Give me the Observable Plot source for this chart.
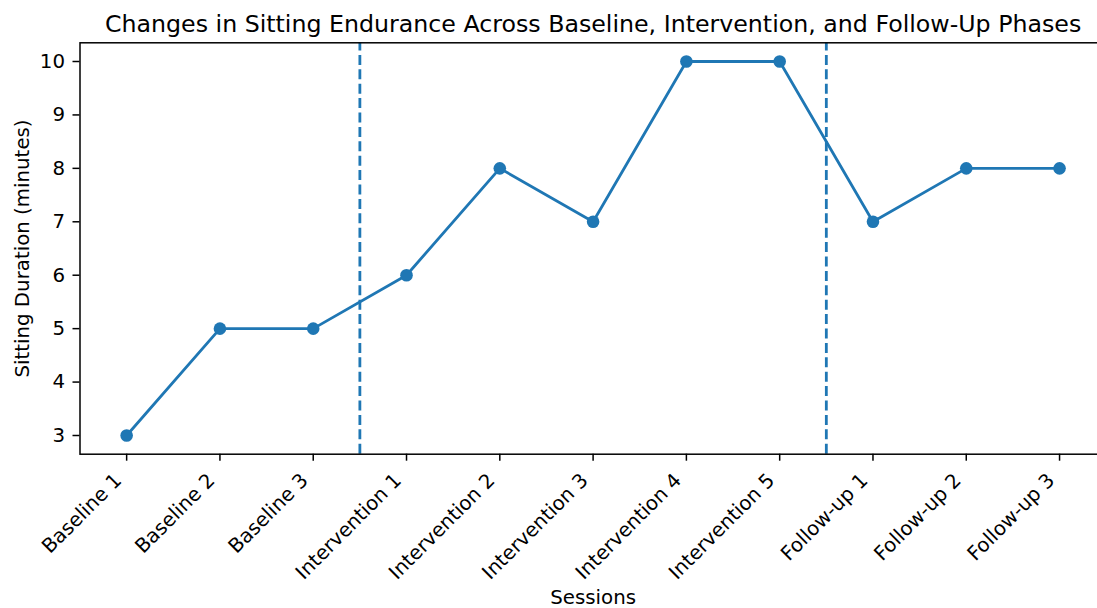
<!DOCTYPE html>
<html>
<head>
<meta charset="utf-8">
<script src="https://cdn.jsdelivr.net/npm/d3@7"></script>
<script src="https://cdn.jsdelivr.net/npm/@observablehq/plot@0.6"></script>
<style>
  html, body { margin: 0; padding: 0; background: white; }
  #chart svg { display: block; overflow: visible; }
</style>
</head>
<body>
<div id="chart"></div>
<script>
const sessions = ["Baseline 1", "Baseline 2", "Baseline 3", "Intervention 1", "Intervention 2", "Intervention 3", "Intervention 4", "Intervention 5", "Follow-up 1", "Follow-up 2", "Follow-up 3"];
const durations = [3, 5, 5, 6, 8, 7, 10, 10, 7, 8, 8];
const phaseBoundaries = [2.5, 7.5];
const yTicks = [3, 4, 5, 6, 7, 8, 9, 10];
const titleText = "Changes in Sitting Endurance Across Baseline, Intervention, and Follow-Up Phases";
const xLabel = "Sessions";
const yLabel = "Sitting Duration (minutes)";

(function () {
const data = sessions.map((s, i) => ({i, session: s, value: durations[i]}));
const idx = sessions.map((s, i) => i);

const W = 1097, H = 608;
const pLeft = 79.5, pRight = 1105.7, pTop = 42.3, pBottom = 453.7;
const yDomain = [2.65, 10.35];
const blue = "#1f77b4";
const font = "DejaVu Sans, sans-serif";

const plot = Plot.plot({
  width: W,
  height: H,
  marginLeft: pLeft,
  marginRight: W - pRight,
  marginTop: pTop,
  marginBottom: H - pBottom,
  style: {fontFamily: font, background: "white", overflow: "visible"},
  x: {domain: [-0.5, 10.5], range: [pLeft, pRight]},
  y: {domain: yDomain, range: [pBottom, pTop]},
  marks: [
    Plot.line(data, {x: "i", y: "value", stroke: blue, strokeWidth: 2.8}),
    Plot.ruleX(phaseBoundaries, {x: d => d, y1: () => yDomain[0], y2: () => yDomain[1], stroke: blue, strokeWidth: 2.8, strokeDasharray: "10,4.4"}),
    Plot.dot(data, {x: "i", y: "value", r: 6.3, fill: blue, stroke: "none"}),
    Plot.frame({stroke: "black", strokeWidth: 1.5}),
    Plot.axisY({ticks: yTicks, tickSize: 7, tickPadding: 8, stroke: "black", strokeWidth: 1.5, fontSize: 19.8, fill: "black", label: null, tickFormat: d => String(d)}),
    Plot.axisX({ticks: idx, tickSize: 7, stroke: "black", strokeWidth: 1.5, tickFormat: () => "", label: null}),
    Plot.text(data, {x: "i", frameAnchor: "bottom", text: "session", rotate: -45, textAnchor: "end", lineAnchor: "middle", dx: -8.5, dy: 23, fontSize: 19.8, fill: "black"}),
    Plot.text([titleText], {text: d => d, frameAnchor: "top", dy: -18, textAnchor: "middle", lineAnchor: "middle", fontSize: 23.7, fill: "black"}),
    Plot.text([xLabel], {text: d => d, frameAnchor: "bottom", dy: 143, textAnchor: "middle", lineAnchor: "middle", fontSize: 19.8, fill: "black"}),
    Plot.text([yLabel], {text: d => d, frameAnchor: "left", dx: -57.5, rotate: -90, textAnchor: "middle", lineAnchor: "middle", fontSize: 19.8, fill: "black"})
  ]
});
document.getElementById("chart").appendChild(plot);
})();
</script>
</body>
</html>
